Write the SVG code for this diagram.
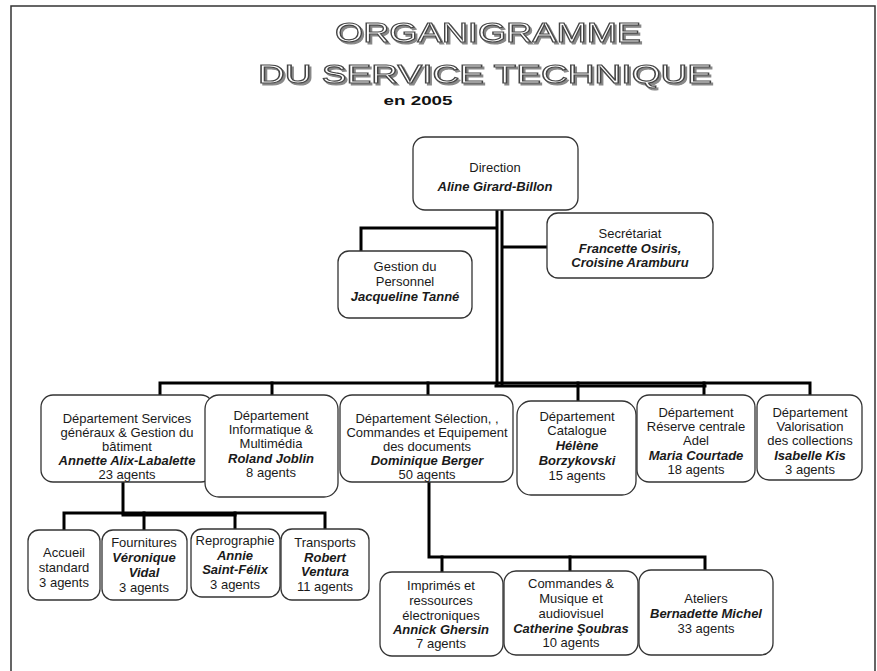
<svg xmlns="http://www.w3.org/2000/svg" width="877" height="671" viewBox="0 0 877 671">
<defs>
<filter id="sh" x="-5%" y="-20%" width="110%" height="150%">
<feOffset in="SourceAlpha" dx="1.5" dy="1.5" result="o"/>
<feFlood flood-color="#888"/>
<feComposite in2="o" operator="in" result="s"/>
<feMerge><feMergeNode in="s"/><feMergeNode in="SourceGraphic"/></feMerge>
</filter>
</defs>
<style>
.box{fill:#fff;stroke:#333;stroke-width:1.3}
.t{font-family:"Liberation Sans",Arial,sans-serif;font-size:13px;fill:#1a1a1a;text-anchor:middle}
.b{font-weight:bold;font-style:italic}
.c{fill:none;stroke:#000;stroke-width:3;stroke-linecap:square}
.title{font-family:"Liberation Sans",Arial,sans-serif;text-anchor:middle;fill:#fff;stroke:#444;stroke-width:1.1;filter:url(#sh)}
</style>
<rect x="0" y="0" width="877" height="671" fill="#fff"/>
<path d="M11,680 V6 H875 V680" fill="none" stroke="#333" stroke-width="1.5"/>

<g id="title">
<text class="title" x="488" y="42" font-size="28" textLength="306" lengthAdjust="spacingAndGlyphs">ORGANIGRAMME</text>
<text class="title" x="485" y="83" font-size="26" textLength="454" lengthAdjust="spacingAndGlyphs">DU SERVICE TECHNIQUE</text>
<text x="418" y="105" font-family="Liberation Sans,Arial,sans-serif" font-size="13" font-weight="bold" text-anchor="middle" fill="#111" textLength="69" lengthAdjust="spacingAndGlyphs">en  2005</text>
</g>

<g id="connectors">
<line class="c" x1="497" y1="211" x2="497" y2="384" stroke-width="2.5"/>
<line class="c" x1="502" y1="211" x2="502" y2="384" stroke-width="2.5"/>
<polyline class="c" points="496,228 361,228 361,251"/>
<line class="c" x1="503" y1="247" x2="547" y2="247"/>
<polyline class="c" points="160,396 160,383 810,383 810,396"/>
<line class="c" x1="496" y1="386" x2="705" y2="386"/>
<line class="c" x1="272" y1="383" x2="272" y2="395"/>
<line class="c" x1="428" y1="383" x2="428" y2="395"/>
<line class="c" x1="578" y1="383" x2="578" y2="401"/>
<line class="c" x1="704" y1="383" x2="704" y2="395"/>
<line class="c" x1="123" y1="483" x2="123" y2="513"/>
<polyline class="c" points="64,529 64,513 325,513 325,529"/>
<line class="c" x1="123" y1="515" x2="235" y2="515"/>
<line class="c" x1="144" y1="513" x2="144" y2="530"/>
<line class="c" x1="235" y1="513" x2="235" y2="529"/>
<polyline class="c" points="429,483 429,557 705,557 705,570"/>
<line class="c" x1="442" y1="557" x2="442" y2="572"/>
<line class="c" x1="570" y1="557" x2="570" y2="571"/>
</g>

<g id="direction">
<rect class="box" x="413" y="137" width="165" height="73" rx="12"/>
<text class="t" x="495" y="172" font-size="15">Direction</text>
<text class="t b" x="495" y="191" font-size="15.5">Aline Girard-Billon</text>
</g>

<g id="gestion">
<rect class="box" x="338" y="251" width="134" height="67" rx="11"/>
<text class="t" x="405" y="271">Gestion du</text>
<text class="t" x="405" y="286">Personnel</text>
<text class="t b" x="405" y="301">Jacqueline Tanné</text>
</g>

<g id="secretariat">
<rect class="box" x="547" y="213" width="166" height="65" rx="11"/>
<text class="t" x="630" y="238">Secrétariat</text>
<text class="t b" x="630" y="253">Francette Osiris,</text>
<text class="t b" x="630" y="267">Croisine Aramburu</text>
</g>

<g id="services">
<rect class="box" x="41" y="395" width="172" height="87" rx="12"/>
<text class="t" x="127" y="423">Département Services</text>
<text class="t" x="127" y="437">généraux &amp; Gestion du</text>
<text class="t" x="127" y="451">bâtiment</text>
<text class="t b" x="127" y="465">Annette Alix-Labalette</text>
<text class="t" x="127" y="479">23 agents</text>
</g>

<g id="informatique">
<rect class="box" x="205" y="395" width="133" height="102" rx="14"/>
<text class="t" x="271" y="420">Département</text>
<text class="t" x="271" y="434">Informatique &amp;</text>
<text class="t" x="271" y="448">Multimédia</text>
<text class="t b" x="271" y="463">Roland Joblin</text>
<text class="t" x="271" y="477">8 agents</text>
</g>

<g id="selection">
<rect class="box" x="340" y="395" width="173" height="87" rx="12"/>
<text class="t" x="427" y="423">Département Sélection, ,</text>
<text class="t" x="427" y="437">Commandes et Equipement</text>
<text class="t" x="427" y="451">des documents</text>
<text class="t b" x="427" y="465">Dominique Berger</text>
<text class="t" x="427" y="479">50 agents</text>
</g>

<g id="catalogue">
<rect class="box" x="517" y="401" width="119" height="94" rx="14"/>
<text class="t" x="577" y="421">Département</text>
<text class="t" x="577" y="435">Catalogue</text>
<text class="t b" x="577" y="450">Hélène</text>
<text class="t b" x="577" y="465">Borzykovski</text>
<text class="t" x="577" y="480">15 agents</text>
</g>

<g id="reserve">
<rect class="box" x="637" y="395" width="118" height="87" rx="12"/>
<text class="t" x="696" y="417">Département</text>
<text class="t" x="696" y="431">Réserve centrale</text>
<text class="t" x="696" y="445">Adel</text>
<text class="t b" x="696" y="460">Maria Courtade</text>
<text class="t" x="696" y="474">18 agents</text>
</g>

<g id="valorisation">
<rect class="box" x="757" y="395" width="105" height="85" rx="12"/>
<text class="t" x="810" y="417">Département</text>
<text class="t" x="810" y="431">Valorisation</text>
<text class="t" x="810" y="445">des collections</text>
<text class="t b" x="810" y="460">Isabelle Kis</text>
<text class="t" x="810" y="474">3 agents</text>
</g>

<g id="accueil">
<rect class="box" x="28" y="530" width="72" height="70" rx="11"/>
<text class="t" x="64" y="557">Accueil</text>
<text class="t" x="64" y="572">standard</text>
<text class="t" x="64" y="587">3 agents</text>
</g>

<g id="fournitures">
<rect class="box" x="102" y="530" width="85" height="70" rx="11"/>
<text class="t" x="144" y="547">Fournitures</text>
<text class="t b" x="144" y="562">Véronique</text>
<text class="t b" x="144" y="577">Vidal</text>
<text class="t" x="144" y="592">3 agents</text>
</g>

<g id="reprographie">
<rect class="box" x="191" y="529" width="89" height="68" rx="11"/>
<text class="t" x="235" y="545">Reprographie</text>
<text class="t b" x="235" y="560">Annie</text>
<text class="t b" x="235" y="574">Saint-Félix</text>
<text class="t" x="235" y="589">3 agents</text>
</g>

<g id="transports">
<rect class="box" x="281" y="529" width="88" height="71" rx="11"/>
<text class="t" x="325" y="547">Transports</text>
<text class="t b" x="325" y="562">Robert</text>
<text class="t b" x="325" y="576">Ventura</text>
<text class="t" x="325" y="591">11 agents</text>
</g>

<g id="imprimes">
<rect class="box" x="380" y="572" width="123" height="84" rx="12"/>
<text class="t" x="441" y="590">Imprimés et</text>
<text class="t" x="441" y="605">ressources</text>
<text class="t" x="441" y="620">électroniques</text>
<text class="t b" x="441" y="634">Annick Ghersin</text>
<text class="t" x="441" y="648">7 agents</text>
</g>

<g id="commandes">
<rect class="box" x="504" y="571" width="134" height="84" rx="12"/>
<text class="t" x="571" y="588">Commandes &amp;</text>
<text class="t" x="571" y="603">Musique et</text>
<text class="t" x="571" y="618">audiovisuel</text>
<text class="t b" x="571" y="633">Catherine Şoubras</text>
<text class="t" x="571" y="647">10 agents</text>
</g>

<g id="ateliers">
<rect class="box" x="639" y="570" width="134" height="85" rx="12"/>
<text class="t" x="706" y="603">Ateliers</text>
<text class="t b" x="706" y="618">Bernadette Michel</text>
<text class="t" x="706" y="633">33 agents</text>
</g>
</svg>
